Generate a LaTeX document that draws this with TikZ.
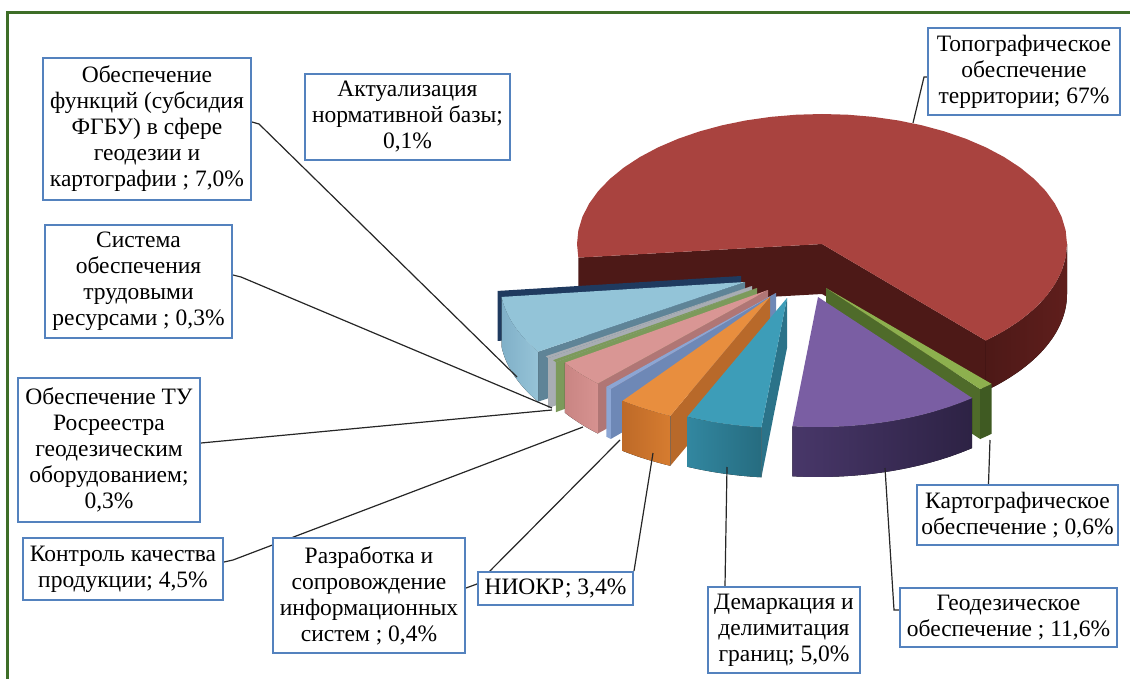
\documentclass[tikz,border=0pt]{standalone}
\usepackage{fontspec}
\setmainfont{Liberation Serif}
\usetikzlibrary{backgrounds}

\definecolor{framegreen}{RGB}{62,110,40}
\definecolor{labelblue}{RGB}{84,130,190}
\definecolor{redtop}{RGB}{169,67,63}
\definecolor{reddark}{RGB}{77,25,23}
\definecolor{redside}{RGB}{95,30,28}
\definecolor{navy}{RGB}{31,58,95}
\definecolor{lbtop}{RGB}{147,196,216}
\definecolor{lbside}{RGB}{128,176,200}
\definecolor{lbsidelight}{RGB}{150,195,215}
\definecolor{lbcut}{RGB}{95,132,151}
\definecolor{graythin}{RGB}{168,173,179}
\definecolor{greenthin}{RGB}{124,154,91}
\definecolor{pinktop}{RGB}{217,150,148}
\definecolor{pinkside}{RGB}{201,133,131}
\definecolor{pinksidelight}{RGB}{214,146,144}
\definecolor{pinkcut}{RGB}{176,118,117}
\definecolor{peri}{RGB}{140,166,212}
\definecolor{peridark}{RGB}{110,136,182}
\definecolor{orangetop}{RGB}{232,142,62}
\definecolor{orangeside}{RGB}{190,106,40}
\definecolor{orangesidelight}{RGB}{214,124,48}
\definecolor{orangecut}{RGB}{184,105,42}
\definecolor{tealtop}{RGB}{61,157,184}
\definecolor{tealside}{RGB}{38,108,128}
\definecolor{tealsidelight}{RGB}{50,135,160}
\definecolor{tealcut}{RGB}{43,115,137}
\definecolor{purpletop}{RGB}{122,94,163}
\definecolor{purpleside}{RGB}{45,34,68}
\definecolor{purplesidelight}{RGB}{72,55,105}
\definecolor{dkgreentop}{RGB}{141,176,78}
\definecolor{dkgreencut}{RGB}{79,107,42}
\definecolor{dkgreenside}{RGB}{63,90,34}

\newcommand\pierx{245}
\newcommand\piery{130}
\newcommand\piedep{50}
% top of a slice: centre x, centre y, from, to, colour
\newcommand\slicetop[5]{\fill[#5] (#1,#2) -- plot[domain=#3:#4,samples=40] ({#1+\pierx*cos(\x)},{#2+\piery*sin(\x)}) -- cycle;}
% outer wall: centre x, centre y, from, to, colour
\newcommand\sliceside[5]{\fill[#5] plot[domain=#3:#4,samples=40] ({#1+\pierx*cos(\x)},{#2+\piery*sin(\x)}) -- plot[domain=#4:#3,samples=40] ({#1+\pierx*cos(\x)},{#2+\piery*sin(\x)+\piedep}) -- cycle;}
% cut along a radius: centre x, centre y, angle, colour
\newcommand\slicecut[4]{\fill[#4] (#1,#2) -- ({#1+\pierx*cos(#3)},{#2+\piery*sin(#3)}) -- ++(0,\piedep) -- (#1,{#2+\piedep}) -- cycle;}

\tikzset{
  lbl/.style={draw=labelblue, line width=2pt, fill=white, inner sep=0pt, align=center,
    font=\fontsize{23.5}{26}\selectfont},
  leader/.style={draw=black!85, line width=1.2pt},
}

\begin{document}
\begin{tikzpicture}[x=1pt,y=-1pt]
  \useasboundingbox (0,0) rectangle (1130,679);
  \draw[framegreen, line width=3pt] (7,690) -- (7,12.5) -- (1140,12.5);

  % the pie, back to front
  \begin{scope}[on background layer]
    % topographic
    \slicecut{822}{244}{174}{reddark}
    \slicecut{822}{244}{48}{reddark}
    \sliceside{822}{244}{0}{48}{left color=reddark, right color=redside}
    \slicetop{822}{244}{174}{408}{redtop}
    % normative base
    \slicecut{741}{276}{173.4}{navy}
    % functions
    \slicecut{745}{282}{147.6}{lbcut}
    \sliceside{745}{282}{147.6}{173.4}{left color=lbside, right color=lbsidelight}
    \slicetop{745}{282}{147.6}{173.4}{lbtop}
    % labour resources
    \slicecut{752}{286}{146.3}{graythin}
    \slicetop{752}{286}{146.3}{147.3}{graythin}
    % TU equipment
    \slicecut{757}{288}{145.2}{greenthin}
    \slicetop{757}{288}{145.2}{146.3}{greenthin}
    % quality control
    \slicecut{768}{290}{134}{pinkcut}
    \sliceside{768}{290}{134}{146}{left color=pinkside, right color=pinksidelight}
    \slicetop{768}{290}{134}{146}{pinktop}
    % information systems
    \slicecut{776}{293}{132.4}{peridark}
    \sliceside{776}{293}{132.4}{133.8}{peri}
    \slicetop{776}{293}{132.4}{133.8}{peri}
    % R&D
    \slicecut{770}{297}{114}{orangecut}
    \sliceside{770}{297}{114}{127}{left color=orangeside, right color=orangesidelight}
    \slicetop{770}{297}{114}{127}{orangetop}
    % cartography
    \slicecut{826}{288}{51}{dkgreencut}
    \sliceside{826}{288}{47.5}{51}{dkgreenside}
    \slicetop{826}{288}{47.5}{51}{dkgreentop}
    % demarcation
    \slicecut{787}{298}{96}{tealcut}
    \sliceside{787}{298}{96}{114}{left color=tealsidelight, right color=tealside}
    \slicetop{787}{298}{96}{114}{tealtop}
    % geodesy
    \sliceside{818}{297}{51}{96}{left color=purplesidelight, right color=purpleside}
    \slicetop{818}{297}{51}{96}{purpletop}
  \end{scope}

  \coordinate (e-topo) at (913,123);
  \coordinate (e-funcs) at (517,377);
  \coordinate (e-sistema) at (552,408);
  \coordinate (e-tu) at (552,410);
  \coordinate (e-kontrol) at (583,427);
  \coordinate (e-razrab) at (620,440);
  \coordinate (e-niokr) at (653,453);
  \coordinate (e-demark) at (727,467);
  \coordinate (e-geodez) at (885,468);
  \coordinate (e-kartog) at (990,440);

  \node[lbl, minimum width=192pt, minimum height=87pt] (topo) at (1024,71.5)
    {Топографическое\\обеспечение\\территории; 67\%};
  \node[lbl, minimum width=208pt, minimum height=142pt] (funcs) at (147,129)
    {Обеспечение\\функций (субсидия\\ФГБУ) в сфере\\геодезии и\\картографии ; 7,0\%};
  \node[lbl, minimum width=205pt, minimum height=86pt] (aktual) at (407.5,117)
    {Актуализация\\нормативной базы;\\0,1\%};
  \node[lbl, minimum width=187pt, minimum height=113pt] (sistema) at (138.5,281.5)
    {Система\\обеспечения\\трудовыми\\ресурсами ; 0,3\%};
  \node[lbl, minimum width=182pt, minimum height=144pt] (tu) at (109,450)
    {Обеспечение ТУ\\Росреестра\\геодезическим\\оборудованием;\\0,3\%};
  \node[lbl, minimum width=200pt, minimum height=62pt] (kontrol) at (123,569)
    {Контроль качества\\продукции; 4,5\%};
  \node[lbl, minimum width=192pt, minimum height=115pt] (razrab) at (369,595.5)
    {Разработка и\\сопровождение\\информационных\\систем ; 0,4\%};
  \node[lbl, minimum width=155pt, minimum height=33pt] (niokr) at (555.5,588.5)
    {НИОКР; 3,4\%};
  \node[lbl, minimum width=152pt, minimum height=86pt] (demark) at (784,630)
    {Демаркация и\\делимитация\\границ; 5,0\%};
  \node[lbl, minimum width=217pt, minimum height=59pt] (geodez) at (1008.5,617.5)
    {Геодезическое\\обеспечение ; 11,6\%};
  \node[lbl, minimum width=201pt, minimum height=60pt] (kartog) at (1017.5,515)
    {Картографическое\\обеспечение ; 0,6\%};

  % leader lines
  \begin{scope}[on background layer]
    \draw[leader] ([yshift=-5.5pt]topo.west) -- ++(-3,0) -- (e-topo);
    \draw[leader] ([yshift=7pt]funcs.east) -- ++(7,2) -- (e-funcs);
    \draw[leader] ([yshift=6.5pt]sistema.east) -- ++(8,2) -- (e-sistema);
    \draw[leader] ([yshift=7pt]tu.east) -- (e-tu);
    \draw[leader] ([yshift=7pt]kontrol.east) -- ++(9,-2) -- (e-kontrol);
    \draw[leader] ([yshift=7.5pt]razrab.east) -- ++(11,-4) -- (e-razrab);
    \draw[leader] (niokr.north east) -- (e-niokr);
    \draw[leader] ([xshift=18pt]demark.north west) -- (e-demark);
    \draw[leader] ([yshift=7.5pt]geodez.west) -- ++(-5,0) -- (e-geodez);
    \draw[leader] ([xshift=72.5pt]kartog.north west) -- (e-kartog);
  \end{scope}
\end{tikzpicture}
\end{document}
